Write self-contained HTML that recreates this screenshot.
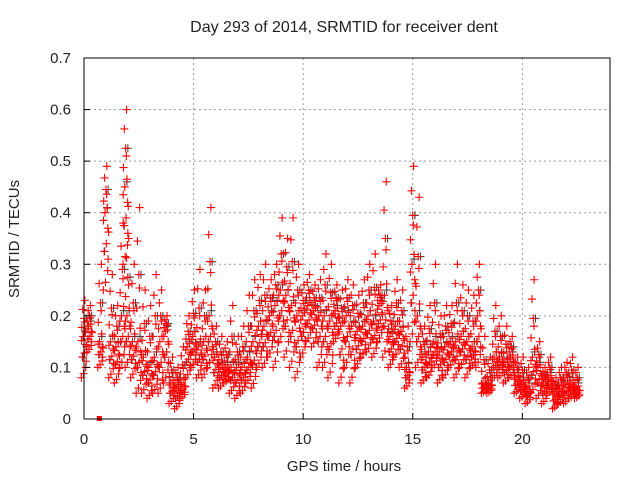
<!DOCTYPE html>
<html><head><meta charset="utf-8"><style>
body{margin:0;background:#fff;}
svg text{font-family:"Liberation Sans",sans-serif;fill:#222;}
</style></head><body>
<svg id="chart" width="640" height="480">
<rect width="640" height="480" fill="#fff"/>
<text x="344" y="32" text-anchor="middle" font-size="16">Day 293 of 2014, SRMTID for receiver dent</text>
<g id="grid"></g>
<g id="marks"></g>
<rect x="84" y="58" width="526" height="361" fill="none" stroke="#000" stroke-width="1"/>
<g id="axes"></g>
<text x="344" y="471" text-anchor="middle" font-size="15">GPS time / hours</text>
<text transform="translate(19,239) rotate(-90)" text-anchor="middle" font-size="15">SRMTID / TECUs</text>
</svg>
<script>
const hours=[0,0.25,0.75,1,1.25,1.5,1.75,1.9,2,2.25,2.5,2.75,3,3.25,3.5,3.75,4,4.25,4.5,4.75,5,5.25,5.5,5.75,6,6.25,6.5,6.75,7,7.25,7.5,7.75,8,8.25,8.5,8.75,9,9.25,9.5,9.75,10,10.25,10.5,10.75,11,11.25,11.5,11.75,12,12.25,12.5,12.75,13,13.25,13.5,13.75,14,14.25,14.5,14.75,15,15.25,15.5,15.75,16,16.25,16.5,16.75,17,17.25,17.5,17.75,18,18.25,18.5,18.75,19,19.25,19.5,19.75,20,20.25,20.5,20.75,21,21.25,21.5,21.75,22,22.25,22.5];
const lowVals=[.08,.13,.10,.25,.08,.07,.10,.30,.10,.08,.05,.05,.04,.05,.05,.07,.03,.02,.04,.08,.10,.08,.08,.10,.06,.06,.07,.05,.04,.05,.07,.06,.10,.10,.12,.10,.15,.12,.10,.08,.12,.15,.14,.10,.10,.08,.15,.07,.10,.07,.10,.12,.13,.12,.15,.12,.10,.12,.10,.06,.15,.10,.07,.08,.10,.07,.08,.10,.08,.10,.08,.10,.10,.05,.05,.08,.08,.07,.08,.05,.04,.03,.05,.04,.03,.05,.02,.03,.03,.04,.04];
const midVals=[.16,.18,.15,.40,.15,.14,.20,.45,.20,.15,.15,.12,.10,.12,.15,.17,.07,.06,.07,.14,.16,.14,.15,.20,.12,.10,.10,.10,.10,.10,.12,.15,.18,.18,.20,.22,.25,.24,.22,.20,.20,.22,.21,.20,.20,.19,.21,.18,.20,.18,.17,.18,.20,.19,.22,.24,.16,.18,.17,.10,.30,.20,.12,.13,.15,.13,.14,.15,.15,.16,.15,.14,.20,.07,.07,.12,.12,.11,.12,.08,.07,.06,.12,.10,.07,.08,.05,.06,.07,.07,.06];
const highVals=[.23,.22,.30,.49,.28,.22,.38,.60,.35,.30,.41,.25,.22,.28,.25,.20,.12,.10,.14,.20,.25,.29,.25,.41,.18,.16,.15,.22,.16,.18,.24,.27,.28,.30,.27,.30,.39,.35,.39,.30,.26,.28,.26,.27,.32,.30,.26,.25,.27,.26,.24,.27,.30,.32,.26,.46,.22,.27,.25,.18,.49,.43,.18,.22,.30,.20,.22,.22,.30,.26,.25,.24,.30,.16,.12,.22,.20,.18,.16,.12,.12,.10,.27,.15,.10,.12,.08,.10,.11,.12,.10];
const xTicks=[0,5,10,15,20];
const yTicks=[0,0.1,0.2,0.3,0.4,0.5,0.6,0.7];
const X0=84,X1=610,Y0=419,Y1=58,XMAX=24,YMAX=0.7;
function xs(v){return X0+(X1-X0)*v/XMAX;}
function ys(v){return Y0-(Y0-Y1)*v/YMAX;}
const NS="http://www.w3.org/2000/svg";
const grid=document.getElementById('grid'),axes=document.getElementById('axes'),marks=document.getElementById('marks');
function mk(tag,attrs,parent){const e=document.createElementNS(NS,tag);for(const k in attrs)e.setAttribute(k,attrs[k]);parent.appendChild(e);return e;}
xTicks.forEach(t=>{const x=xs(t);
 if(t>0){const g=mk('line',{x1:x,y1:Y1,x2:x,y2:Y0,stroke:'#999','stroke-dasharray':'2,3'},grid);
 
 }
 const tk=mk('line',{x1:x,y1:Y0,x2:x,y2:Y0-6,stroke:'#000'},axes);
 
 
 const l=mk('text',{x:x,y:444,'text-anchor':'middle','font-size':15},axes);l.textContent=t;
 
 
});
yTicks.forEach(t=>{const y=ys(t);
 if(t>0&&t<0.7){const g=mk('line',{x1:X0,y1:y,x2:X1,y2:y,stroke:'#999','stroke-dasharray':'2,3'},grid);
 
 }
 const tk=mk('line',{x1:X0,y1:y,x2:X0+6,y2:y,stroke:'#000'},axes);
 
 
 const l=mk('text',{x:71,y:y+5,'text-anchor':'end','font-size':15},axes);l.textContent=t;
 
 
});
function cross(h,v,color){const x=xs(h),y=ys(v);
 const p=mk('path',{d:`M${x-4},${y}H${x+4}M${x},${y-4}V${y+4}`,stroke:color,'stroke-width':1.1,fill:'none'},marks);
 
 }
const offs=[-0.12,-0.08,-0.04,0,0.04,0.08,0.12,-0.1,-0.06,-0.02,0.02,0.06,0.1,-0.11,0.03,0.09];
const fr=[0,0.5,1,1.5,2,0.25,0.75,1.25,1.75,0.1,0.6,1.1,0.4,0.9,1.4,0.8];
hours.forEach((h,i)=>{
 cross(h+0.06,midVals[i]+0.01,'#444');
 cross(h-0.06,(lowVals[i]+midVals[i])/2,'#444');
 cross(h+0.1,(midVals[i]+highVals[i])/2,'#444');
});
hours.forEach((h,i)=>{
 const lo=lowVals[i],mi=midVals[i],hi=highVals[i];
 fr.forEach((f,j)=>{const v=f<=1?lo+(mi-lo)*f:mi+(hi-mi)*(f-1);cross(h+offs[j],v,'#f00');});
});
const sq=mk('rect',{x:xs(0.7)-2.5,y:Y0-3,width:5,height:5,fill:'#f00'},marks);


</script>
</body></html>
